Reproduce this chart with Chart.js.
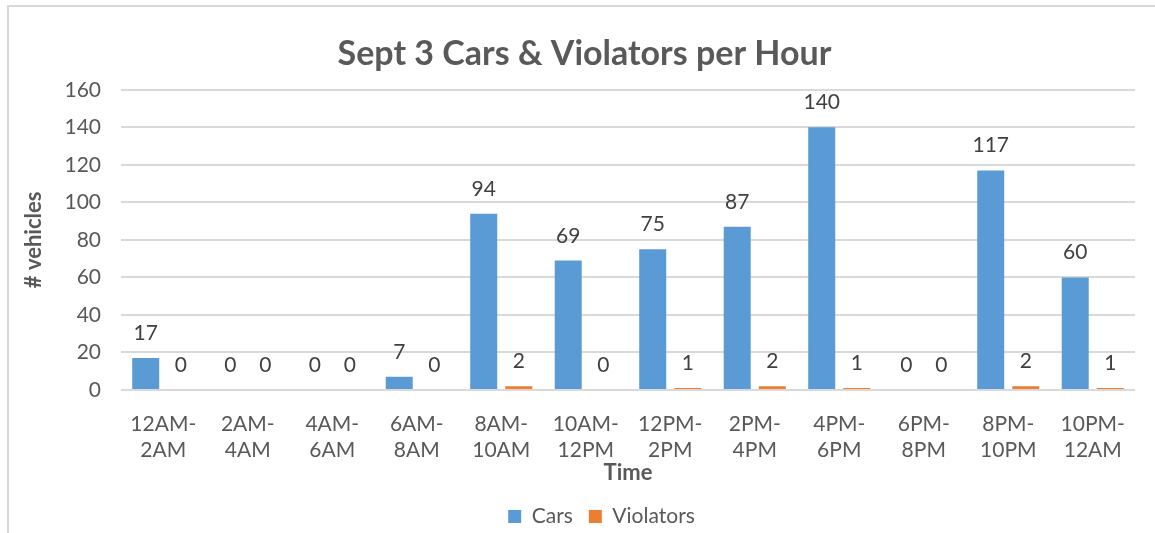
<!DOCTYPE html>
<html>
<head>
<meta charset="utf-8">
<script src="https://cdn.jsdelivr.net/npm/chart.js@4/dist/chart.umd.min.js"></script>
<style>
  body { margin: 0; background: #fff; overflow: hidden; }
  #frame { position: absolute; left: 7px; top: 5px; width: 2000px; height: 2000px; border: 2px solid #d9d9d9; }
  #chart { position: absolute; left: 0; top: 0; }
</style>
</head>
<body>
<div id="frame"></div>
<canvas id="chart" width="1155" height="533"></canvas>
<script>
var timeLabels = [
    ['12AM-', '2AM'], ['2AM-', '4AM'], ['4AM-', '6AM'], ['6AM-', '8AM'],
    ['8AM-', '10AM'], ['10AM-', '12PM'], ['12PM-', '2PM'], ['2PM-', '4PM'],
    ['4PM-', '6PM'], ['6PM-', '8PM'], ['8PM-', '10PM'], ['10PM-', '12AM']
];
var cars = [17, 0, 0, 7, 94, 69, 75, 87, 140, 0, 117, 60];
var violators = [0, 0, 0, 0, 2, 0, 1, 2, 1, 0, 2, 1];

var FONT = 'Lato';

// value labels above each bar
var barLabels = {
    id: 'barLabels',
    afterUpdate: function(chart) {
        // nudge title and legend like the original layout
        chart.titleBlock.left += 17;
        chart.titleBlock.right += 17;
        chart.legend.left += 34;
        chart.legend.right += 34;
        chart.legend.top += 4;
        chart.legend.bottom += 4;
    },
    afterDatasetsDraw: function(chart) {
        var ctx = chart.ctx;
        ctx.save();
        ctx.font = '21px ' + FONT;
        ctx.fillStyle = '#404040';
        ctx.textAlign = 'center';
        ctx.textBaseline = 'alphabetic';
        chart.data.datasets.forEach(function(ds, i) {
            chart.getDatasetMeta(i).data.forEach(function(bar, j) {
                ctx.fillText(ds.data[j], bar.x, bar.y - 18);
            });
        });
        ctx.restore();
    }
};

var ctx = document.getElementById('chart').getContext('2d');
var chart = new Chart(ctx, {
    type: 'bar',
    data: {
        labels: timeLabels,
        datasets: [{
            label: 'Cars',
            backgroundColor: '#5B9BD5',
            data: cars
        }, {
            label: 'Violators',
            backgroundColor: '#ED7D31',
            data: violators
        }]
    },
    options: {
        responsive: false,
        animation: false,
        categoryPercentage: 0.83,
        barPercentage: 0.77,
        layout: { padding: { left: 0, right: 20, top: 0, bottom: 0 } },
        plugins: {
            tooltip: { enabled: false },
            title: {
                display: true,
                text: 'Sept 3 Cars & Violators per Hour',
                color: '#595959',
                font: { family: FONT, size: 34, weight: 'bold' },
                padding: { top: 34, bottom: 15 }
            },
            legend: {
                position: 'bottom',
                labels: {
                    color: '#595959',
                    font: { family: FONT, size: 21 },
                    boxWidth: 13,
                    boxHeight: 13,
                    padding: 16
                }
            }
        },
        scales: {
            x: {
                grid: { display: false },
                border: { display: false },
                ticks: {
                    color: '#595959',
                    font: { family: FONT, size: 21 },
                    padding: 14,
                    maxRotation: 0,
                    autoSkip: false
                },
                title: {
                    display: true,
                    text: 'Time',
                    color: '#595959',
                    font: { family: FONT, size: 22, weight: 'bold' },
                    padding: { top: 0, bottom: 0 }
                },
                afterFit: function(scale) { scale.height = 96; }
            },
            y: {
                min: 0,
                max: 160,
                ticks: {
                    stepSize: 20,
                    color: '#595959',
                    font: { family: FONT, size: 21 },
                    padding: 20
                },
                grid: { color: '#d9d9d9', lineWidth: 2, drawTicks: false },
                border: { display: false },
                title: {
                    display: true,
                    text: '# vehicles',
                    color: '#595959',
                    font: { family: FONT, size: 22, weight: 'bold' },
                    padding: { top: 21, bottom: 0 }
                },
                afterFit: function(scale) { scale.width = 121; }
            }
        }
    },
    plugins: [barLabels]
});
</script>
</body>
</html>
